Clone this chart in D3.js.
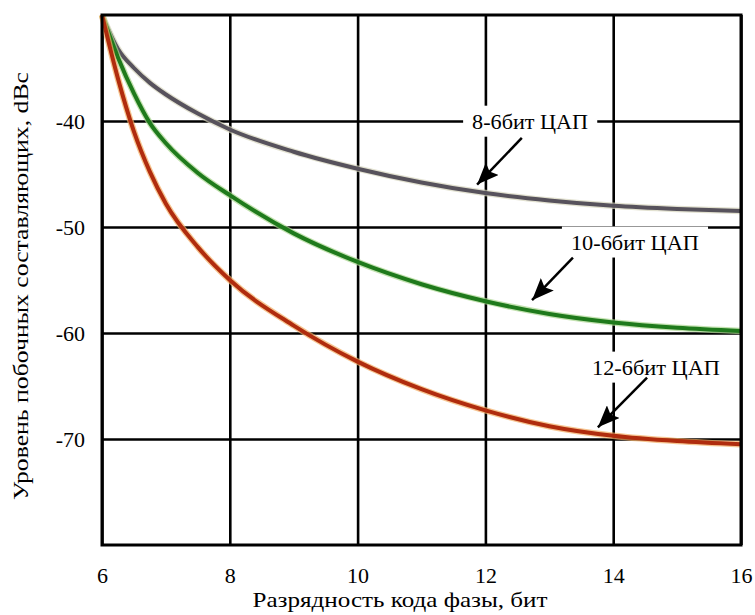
<!DOCTYPE html>
<html>
<head>
<meta charset="utf-8">
<script src="https://cdn.jsdelivr.net/npm/d3@7"></script>
<style>
body { margin: 0; background: #fff; }
svg text { font-family: "Liberation Serif", "DejaVu Serif", serif; fill: #000; }
</style>
</head>
<body>
<div id="chart"></div>
<script>
// data
var bits = [6, 6.25, 6.5, 6.75, 7, 7.5, 8, 9, 10, 11, 12, 13, 14, 15, 16]
var dac8 = [-30, -33.2, -35.0, -36.4, -37.5, -39.3, -40.8, -42.9, -44.5, -45.8, -46.8, -47.5, -48.0, -48.3, -48.5]
var dac10 = [-30, -34.0, -37.4, -40.2, -42.1, -44.9, -47.0, -50.6, -53.3, -55.4, -57.0, -58.2, -59.0, -59.5, -59.8]
var dac12 = [-30, -36.0, -41.0, -44.8, -47.8, -51.9, -55.0, -59.3, -62.7, -65.3, -67.3, -68.8, -69.7, -70.2, -70.5]

var xTicks = [6, 8, 10, 12, 14, 16]
var yTicks = [-40, -50, -60, -70]

var labels = ["8-6бит ЦАП", "10-6бит ЦАП", "12-6бит ЦАП"]
var labelX = [12.7, 14.34, 14.67]
var labelY = [-40, -51.4, -63.2]
var arrowFrom = [[12.57, -41.6], [13.37, -52.9], [14.53, -64.2]]
var arrowTo = [[11.87, -46.0], [12.73, -56.9], [13.76, -68.9]]

var xTitle = "Разрядность кода фазы, бит"
var yTitle = "Уровень побочных составляющих, dBc"

var W = 755, H = 615
var marginLeft = 102, marginTop = 15, width = 639, height = 530
var serif = "'Liberation Serif', 'DejaVu Serif', serif"

var svg = d3.select("#chart").append("svg")
    .attr("width", W)
    .attr("height", H)
    .style("font-family", serif)

var x = d3.scaleLinear().domain([6, 16]).range([0, width])
var y = d3.scaleLinear().domain([-80, -30]).range([height, 0])

var g = svg.append("g").attr("transform", "translate(" + marginLeft + "," + marginTop + ")")

function styleAxis(a) {
    a.attr("font-family", serif).attr("font-size", 22)
    a.select(".domain").remove()
    a.selectAll("line").attr("stroke", "#000").attr("stroke-width", 2.6)
    a.selectAll("text").style("font-family", serif).attr("font-size", 22)
}

// grid + tick labels (plain hyphen for the minus, as in the picture)
g.append("g")
    .attr("transform", "translate(0," + height + ")")
    .call(d3.axisBottom(x).tickValues(xTicks).tickSize(-height).tickPadding(22)
        .tickFormat(function(d) { return String(d) }))
    .call(styleAxis)

g.append("g")
    .call(d3.axisLeft(y).tickValues(yTicks).tickSize(-width).tickPadding(17)
        .tickFormat(function(d) { return String(d) }))
    .call(styleAxis)

// curves
var line = d3.line()
    .x(function(d) { return x(d[0]) })
    .y(function(d) { return y(d[1]) })
    .curve(d3.curveMonotoneX)

var series = [
    { vals: dac8, color: "#57525c", halo: "#d6d4bc" },
    { vals: dac10, color: "#1f7a1c", halo: "#a9d68f" },
    { vals: dac12, color: "#b02c0e", halo: "#f2ad62" }
]

series.forEach(function(s) {
    var pts = bits.map(function(b, i) { return [b, s.vals[i]] })
    g.append("path")
        .attr("d", line(pts))
        .attr("fill", "none")
        .attr("stroke", s.halo)
        .attr("stroke-width", 6.5)
        .attr("stroke-opacity", 0.7)
    g.append("path")
        .attr("d", line(pts))
        .attr("fill", "none")
        .attr("stroke", s.color)
        .attr("stroke-width", 4)
})

// labels with white boxes
var labelWidths = [116, 128, 128]
labels.forEach(function(t, i) {
    var lg = g.append("g")
    var txt = lg.append("text")
        .attr("x", x(labelX[i]))
        .attr("y", y(labelY[i]))
        .attr("dy", "0.35em")
        .attr("text-anchor", "middle")
        .attr("font-size", 22)
        .attr("textLength", labelWidths[i])
        .attr("lengthAdjust", "spacingAndGlyphs")
        .text(t)
    var bb = txt.node().getBBox()
    lg.insert("rect", "text")
        .attr("x", bb.x - 9)
        .attr("y", bb.y - 3)
        .attr("width", bb.width + 18)
        .attr("height", bb.height + 6)
        .attr("fill", "#fff")
})

// arrows
svg.append("defs").append("marker")
    .attr("id", "arrow")
    .attr("markerUnits", "userSpaceOnUse")
    .attr("viewBox", "0 0 22 18")
    .attr("refX", 22)
    .attr("refY", 9)
    .attr("markerWidth", 22)
    .attr("markerHeight", 18)
    .attr("orient", "auto")
    .append("path")
    .attr("d", "M0,0 L22,9 L0,18 L4,9 Z")
    .attr("fill", "#000")

arrowFrom.forEach(function(p, i) {
    g.append("line")
        .attr("x1", x(p[0]))
        .attr("y1", y(p[1]))
        .attr("x2", x(arrowTo[i][0]))
        .attr("y2", y(arrowTo[i][1]))
        .attr("stroke", "#000")
        .attr("stroke-width", 2.5)
        .attr("marker-end", "url(#arrow)")
})

// frame
g.append("rect")
    .attr("width", width)
    .attr("height", height)
    .attr("fill", "none")
    .attr("stroke", "#000")
    .attr("stroke-width", 3)

// titles
svg.append("text")
    .attr("x", 400)
    .attr("y", 607)
    .attr("text-anchor", "middle")
    .attr("font-size", 21)
    .attr("textLength", 295)
    .attr("lengthAdjust", "spacingAndGlyphs")
    .text(xTitle)

svg.append("text")
    .attr("transform", "translate(28,286) rotate(-90)")
    .attr("text-anchor", "middle")
    .attr("font-size", 21)
    .attr("textLength", 428)
    .attr("lengthAdjust", "spacingAndGlyphs")
    .text(yTitle)
</script>
</body>
</html>
